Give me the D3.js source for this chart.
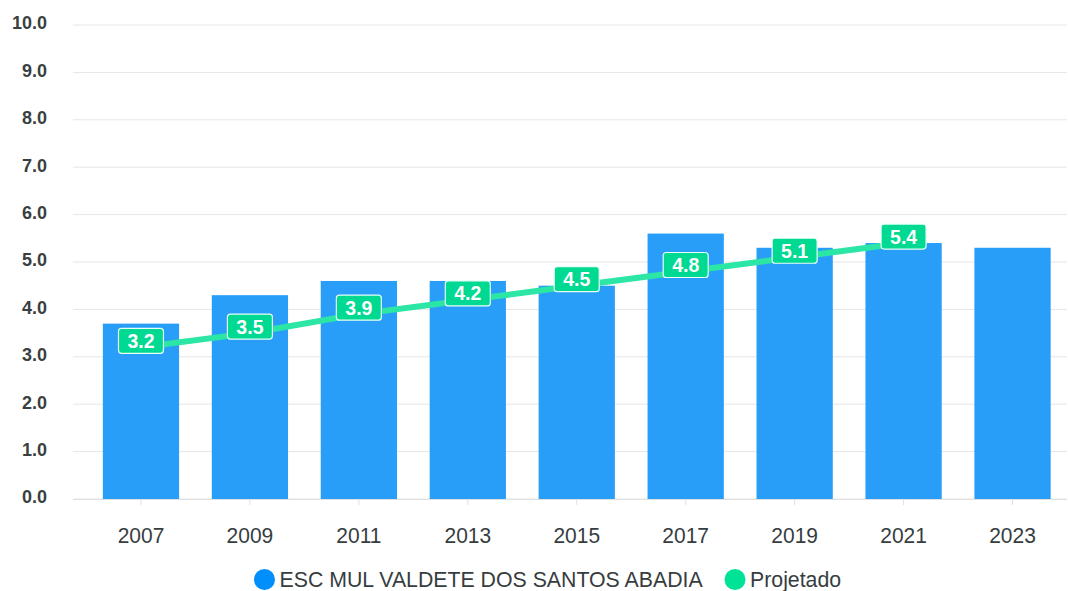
<!DOCTYPE html>
<html><head><meta charset="utf-8">
<script src="https://cdn.jsdelivr.net/npm/d3@7"></script>
<style>body{margin:0;background:#fff;font-family:"Liberation Sans",Arial,sans-serif;}</style>
</head><body><svg id="c" width="1068" height="591"></svg>
<script>
const categories = ["2007","2009","2011","2013","2015","2017","2019","2021","2023"];
const schoolValues = [3.7,4.3,4.6,4.6,4.5,5.6,5.3,5.4,5.3];
const projectedYears = ["2007","2009","2011","2013","2015","2017","2019","2021"];
const projectedValues = [3.2,3.5,3.9,4.2,4.5,4.8,5.1,5.4];
const yTicks = [0,1,2,3,4,5,6,7,8,9,10];
const seriesNames = ["ESC MUL VALDETE DOS SANTOS ABADIA","Projetado"];

const svg = d3.select("#c");
const x = d3.scaleBand().domain(categories).range([86.5,1067]).paddingInner(0.3).paddingOuter(0.15);
const y = d3.scaleLinear().domain([0,10]).range([499,25]);

// gridlines
svg.append("g").selectAll("line").data(yTicks).join("line")
  .attr("x1",73).attr("x2",1067).attr("y1",d=>y(d)).attr("y2",d=>y(d))
  .attr("stroke","#e6e6e6").attr("stroke-width",1);

// y labels
svg.append("g").selectAll("text").data(yTicks).join("text")
  .attr("x",47).attr("y",d=>y(d)-2).attr("dy","0.35em").attr("text-anchor","end")
  .attr("font-size",18).attr("font-weight","bold").attr("fill","#3a3f42")
  .text(d=>d.toFixed(1));

// bars
svg.append("g").selectAll("rect").data(categories).join("rect")
  .attr("x",d=>x(d)).attr("width",x.bandwidth())
  .attr("y",(d,i)=>y(schoolValues[i])).attr("height",(d,i)=>y(0)-y(schoolValues[i]))
  .attr("fill","#289ef9");

// x axis
const xAxis = d3.axisBottom(x).tickSize(6).tickSizeOuter(0).tickFormat(()=>"");
const gx = svg.append("g").attr("transform",`translate(0,${y(0)})`).call(xAxis);
gx.select(".domain").attr("stroke","#e0e0e0").attr("d","M73,0.5H1067");
gx.selectAll(".tick line").attr("stroke","#e0e0e0");
svg.append("g").selectAll("text").data(categories).join("text")
  .attr("transform",d=>`translate(${x(d)+x.bandwidth()/2},535) scale(1,1.08)`)
  .attr("text-anchor","middle").attr("dy","0.35em")
  .attr("font-size",21).attr("fill","#373d3f").text(d=>d);

// line
const cx = d=>x(d)+x.bandwidth()/2;
const line = d3.line().x((d,i)=>cx(projectedYears[i])).y(d=>y(d));
svg.append("path").datum(projectedValues).attr("d",line)
  .attr("fill","none").attr("stroke","#2be6a4").attr("stroke-width",6).attr("stroke-linecap","round");

// labels
const lab = svg.append("g").selectAll("g").data(projectedValues).join("g")
  .attr("transform",(d,i)=>`translate(${cx(projectedYears[i])},${y(d)-6.5})`);
lab.append("rect").attr("x",-22.5).attr("y",-12.5).attr("width",45).attr("height",25).attr("rx",3)
  .attr("fill","#00d991").attr("stroke","#e8fff6").attr("stroke-width",1.2);
lab.append("text").attr("text-anchor","middle").attr("dy","0.36em")
  .attr("font-size",19.5).attr("font-weight","bold").attr("fill","#fff").text(d=>d.toFixed(1));

// legend
const lg = svg.append("g");
const legendColors = ["#008ffb","#00e396"];
const legendX = [264.5,735];
seriesNames.forEach((n,i)=>{
  lg.append("circle").attr("cx",legendX[i]).attr("cy",579.5).attr("r",10.5).attr("fill",legendColors[i]);
  lg.append("text").attr("transform",`translate(${legendX[i]+15},579) scale(1,1.05)`).attr("dy","0.35em")
    .attr("font-size",21.3).attr("fill","#373d3f").text(n);
});
</script></body></html>
